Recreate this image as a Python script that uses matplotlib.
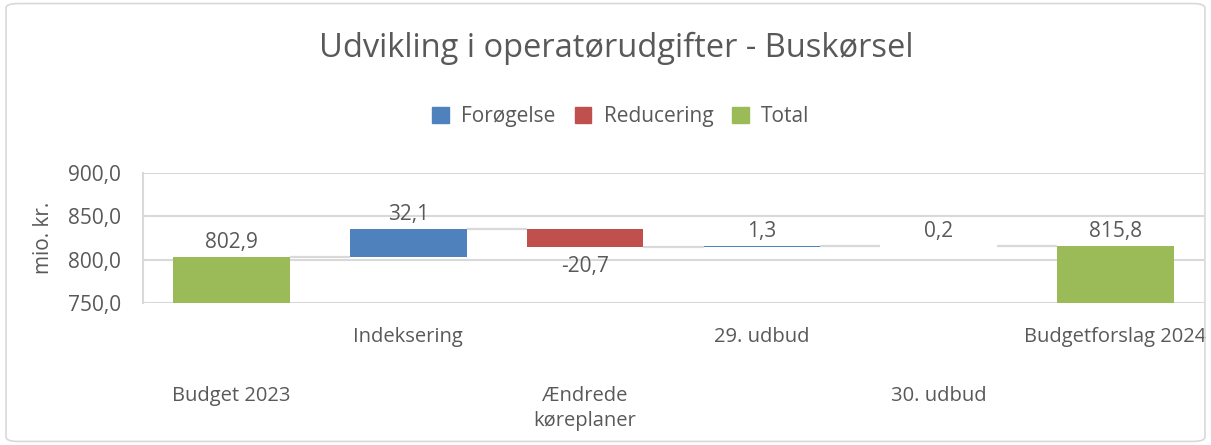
import numpy as np
import matplotlib.pyplot as plt
from matplotlib.patches import Patch, FancyBboxPatch

# ==============================
# DATA
# ==============================
categories = ["Budget 2023", "Indeksering", "Ændrede\nkøreplaner",
              "29. udbud", "30. udbud", "Budgetforslag 2024"]
values = [802.9, 32.1, -20.7, 1.3, 0.2, 815.8]
is_total = [True, False, False, False, False, True]

col_up = "#4F81BD"
col_down = "#C0504D"
col_total = "#9BBB59"
txt = "#595959"
grid = "#D9D9D9"

plt.rcParams['font.family'] = ['Open Sans', 'DejaVu Sans']

# ==============================
# WATERFALL GEOMETRY
# ==============================
bottoms, heights, colors = [], [], []
running = 0.0
for v, tot in zip(values, is_total):
    if tot:
        bottoms.append(0.0)
        heights.append(v)
        colors.append(col_total)
        running = v
    else:
        start = running
        running = running + v
        bottoms.append(min(start, running))
        heights.append(abs(v))
        colors.append(col_up if v >= 0 else col_down)

x = np.arange(len(values))
width = 0.66

fig = plt.figure(figsize=(12.11, 4.45), dpi=100)
ax = fig.add_axes([143/1211, 1-303/445, (1204-143)/1211, (303-173)/445])

ax.bar(x, heights, bottom=bottoms, width=width, color=colors, zorder=3)

# connector lines
levels = []
running = 0.0
for v, tot in zip(values, is_total):
    running = v if tot else running + v
    levels.append(running)
for i in range(len(values) - 1):
    ax.plot([i + width/2, i + 1 - width/2], [levels[i], levels[i]],
            color=grid, lw=1.6, zorder=2, solid_capstyle='butt')

# data labels
for i, (v, tot) in enumerate(zip(values, is_total)):
    lab = f"{v:.1f}".replace(".", ",")
    if v >= 0:
        ax.annotate(lab, (i, bottoms[i] + heights[i]), xytext=(0, 3),
                    textcoords='offset points', ha='center', va='bottom',
                    fontsize=15, color=txt, zorder=4)
    else:
        ax.annotate(lab, (i, bottoms[i]), xytext=(0, -6),
                    textcoords='offset points', ha='center', va='top',
                    fontsize=15, color=txt, zorder=4)

ax.set_ylim(750, 900)
ax.set_xlim(-0.5, len(values) - 0.5)
ax.set_yticks([750, 800, 850, 900])
ax.set_yticklabels([f"{t:.1f}".replace(".", ",") for t in [750, 800, 850, 900]])
ax.tick_params(axis='y', length=0, labelsize=15, labelcolor=txt, pad=16)
ax.set_xticks([])
ax.grid(axis='y', color=grid, lw=1.5, zorder=0)
for s in ['top', 'right', 'bottom']:
    ax.spines[s].set_visible(False)
ax.spines['left'].set_color(grid)
ax.spines['left'].set_linewidth(1.5)
ax.set_ylabel("mio. kr.", fontsize=15, color=txt, labelpad=10)

# staggered category labels
for i, lab in enumerate(categories):
    off = -17 if i % 2 == 1 else -60
    ax.annotate(lab, (i, 0), xycoords=('data', 'axes fraction'),
                xytext=(0, off), textcoords='offset points',
                ha='center', va='top', fontsize=14.5, color=txt,
                linespacing=1.3)

fig.suptitle("Udvikling i operatørudgifter - Buskørsel", x=616/1211,
             y=1-48/445, va='center', fontsize=23.5, color=txt)

handles = [Patch(color=col_up, label="Forøgelse"),
           Patch(color=col_down, label="Reducering"),
           Patch(color=col_total, label="Total")]
fig.legend(handles=handles, loc='center', bbox_to_anchor=(621/1211, 1-117/445),
           ncol=3, frameon=False, fontsize=15, labelcolor=txt,
           handlelength=0.8, handleheight=0.8, handletextpad=0.6,
           columnspacing=0.9)

fig.patches.append(FancyBboxPatch((0.005, 0.008), 0.99, 0.984,
                                  boxstyle="round,pad=0,rounding_size=0.01",
                                  transform=fig.transFigure, fill=False,
                                  edgecolor=grid, lw=1.2))

fig.savefig("out.png", dpi=100)
